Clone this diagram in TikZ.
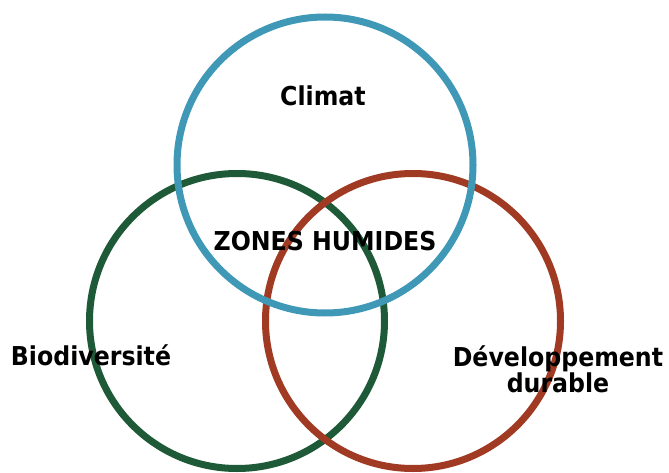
\documentclass[tikz,border=0pt]{standalone}
\usepackage{fontspec}
\setmainfont[FakeStretch=0.91]{DejaVu Sans}
\definecolor{cblue}{RGB}{64,152,183}
\definecolor{cgreen}{RGB}{30,90,55}
\definecolor{cred}{RGB}{160,58,34}
\begin{document}
\begin{tikzpicture}[x=1pt,y=-1pt,
  ring/.style={line width=7pt},
  lbl/.style={font=\fontsize{26}{24}\selectfont\bfseries, inner sep=0pt, align=center}]
\useasboundingbox (0,0) rectangle (669,473);
\coordinate (cg) at (237,321);
\coordinate (cr) at (413,321);
\coordinate (cb) at (325,165);
\draw[ring, cgreen] (cg) circle[radius=147.5];
\draw[ring, cred] (cr) circle[radius=147.5];
\draw[ring, cblue] (cb) circle[radius=148];
\node[lbl, anchor=base] (climat) at (323,106) {Climat};
\node[lbl, anchor=base] (zh) at (325,250) {ZONES HUMIDES};
\node[lbl, anchor=base] (bio) at (91,365) {Biodiversité};
\node[lbl] (dev) at (558,369) {Développement\\durable};
\end{tikzpicture}
\end{document}
